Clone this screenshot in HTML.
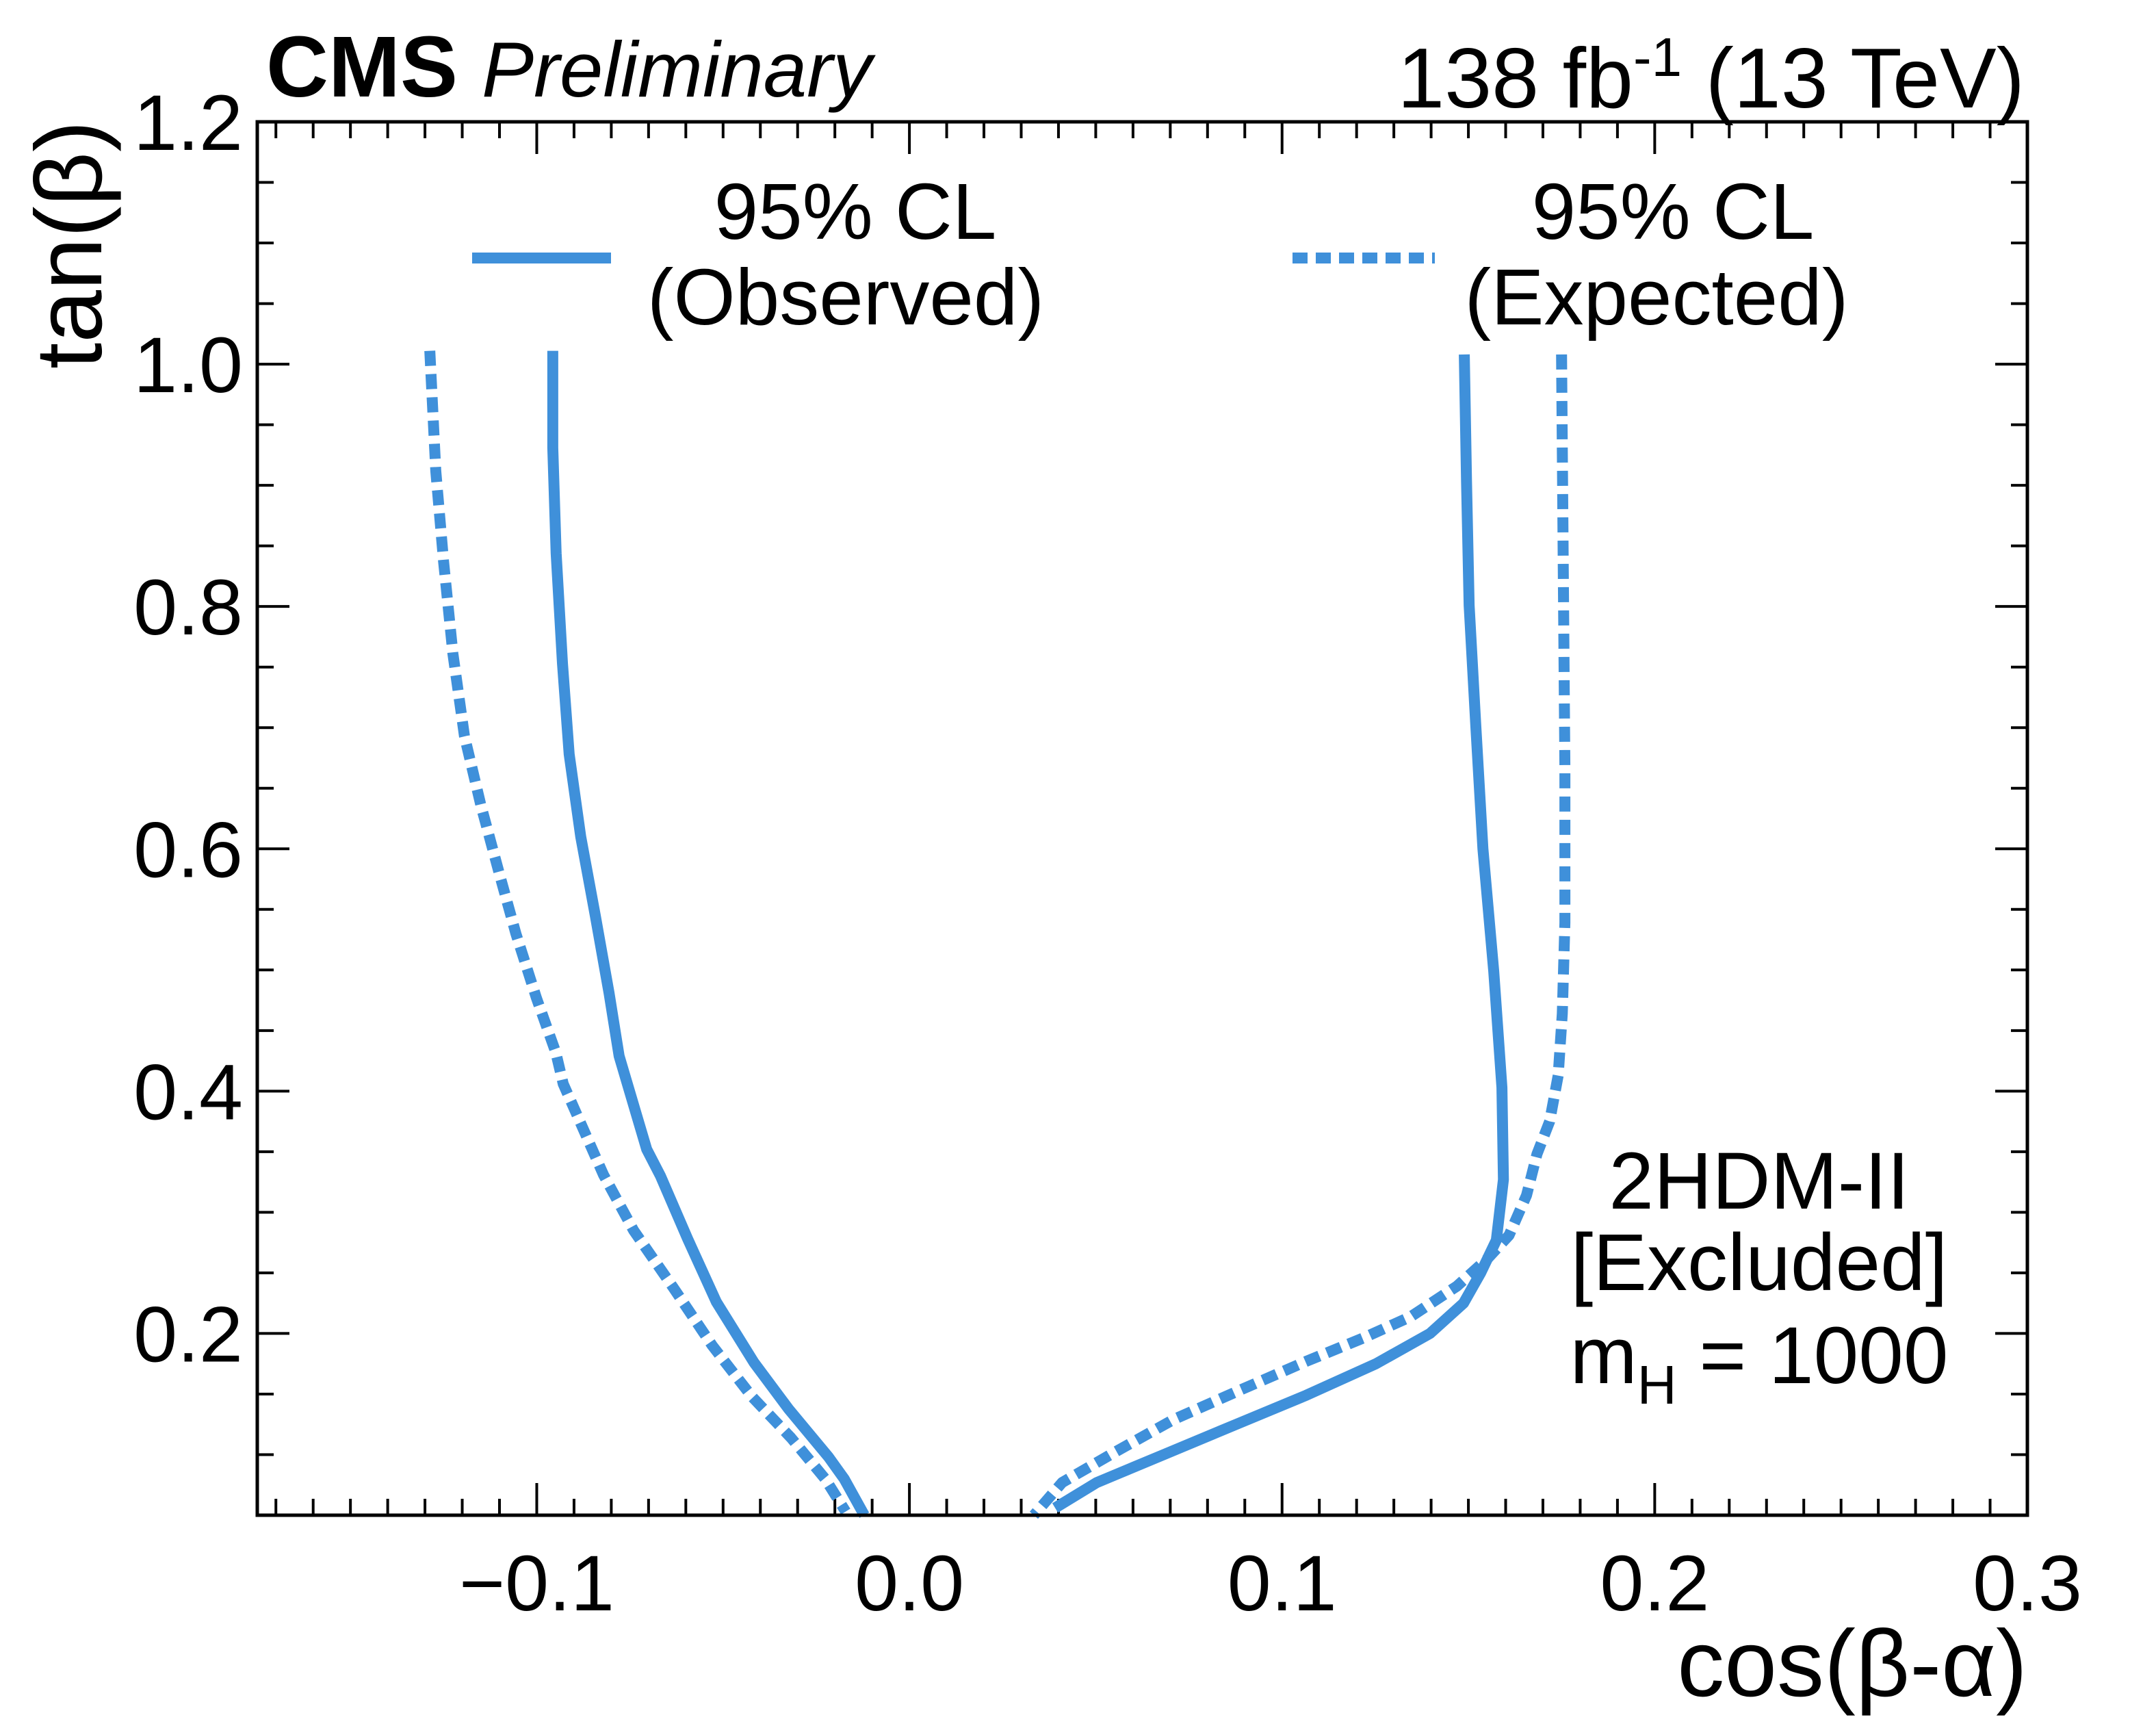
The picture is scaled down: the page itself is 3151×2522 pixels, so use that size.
<!DOCTYPE html>
<html><head><meta charset="utf-8"><style>
html,body{margin:0;padding:0;background:#fff;}
svg{display:block;font-family:"Liberation Sans",sans-serif;}
</style></head><body>
<svg id="chart" width="3151" height="2522" viewBox="0 0 3151 2522" xmlns="http://www.w3.org/2000/svg">
<g id="ticks"></g>
<g id="series"></g>
<rect x="376" y="178" width="2587" height="2036" fill="none" stroke="#000" stroke-width="5"/>
<g id="labels" font-size="115"></g>
<text x="389" y="141" font-size="126" font-weight="bold">CMS <tspan font-weight="normal" font-style="italic" font-size="114">Preliminary</tspan></text>
<text x="2959" y="157" font-size="124" text-anchor="end">138 fb<tspan dy="-46" font-size="80">-1</tspan><tspan dy="46"> (13 TeV)</tspan></text>
<text x="2963" y="2478" font-size="138" text-anchor="end">cos(β-α)</text>
<text transform="translate(148,176) rotate(-90)" font-size="138" text-anchor="end">tan(β)</text>
<g font-size="116" text-anchor="middle">
<line x1="690" y1="377" x2="893" y2="377" stroke="#3f90da" stroke-width="16"/>
<text x="1250" y="349">95% CL</text>
<text x="1236" y="474">(Observed)</text>
<line x1="1889" y1="377" x2="2097" y2="377" stroke="#3f90da" stroke-width="16" stroke-dasharray="22,12"/>
<text x="2445" y="349">95% CL</text>
<text x="2421" y="474">(Expected)</text>
</g>
<g font-size="118" text-anchor="middle">
<text x="2571" y="1766">2HDM-II</text>
<text x="2571" y="1885">[Excluded]</text>
<text x="2571" y="2021">m<tspan dy="30" font-size="80">H</tspan><tspan dy="-30"> = 1000</tspan></text>
</g>
</svg>
<script>
const xTickLabels = ["\u22120.1","0.0","0.1","0.2","0.3"];
const xTickValues = [-0.1,0,0.1,0.2,0.3];
const yTickLabels = ["0.2","0.4","0.6","0.8","1.0","1.2"];
const yTickValues = [0.2,0.4,0.6,0.8,1.0,1.2];
const obsLeftX = [-0.0957,-0.0957,-0.0948,-0.0931,-0.0913,-0.0882,-0.0843,-0.0806,-0.0779,-0.0705,-0.0668,-0.0595,-0.0518,-0.0417,-0.0325,-0.0217,-0.0175,-0.0121];
const obsLeftY = [1.011,0.931,0.844,0.753,0.678,0.610,0.545,0.481,0.429,0.352,0.330,0.278,0.226,0.176,0.138,0.098,0.080,0.050];
const obsRightX = [0.1489,0.1495,0.1502,0.1520,0.1539,0.1568,0.1590,0.1594,0.1575,0.1533,0.1487,0.1397,0.1252,0.1065,0.0877,0.0690,0.0503,0.0391];
const obsRightY = [1.008,0.903,0.801,0.701,0.600,0.499,0.403,0.327,0.277,0.250,0.225,0.200,0.175,0.149,0.125,0.101,0.077,0.056];
const expLeftX = [-0.1287,-0.1271,-0.1250,-0.1225,-0.1194,-0.1150,-0.1100,-0.1056,-0.1001,-0.0949,-0.0929,-0.0880,-0.0821,-0.0740,-0.0634,-0.0529,-0.0423,-0.0318,-0.0226,-0.0171];
const expLeftY = [1.011,0.912,0.837,0.761,0.693,0.636,0.579,0.530,0.477,0.432,0.406,0.372,0.331,0.285,0.238,0.190,0.148,0.114,0.080,0.053];
const expRightX = [0.1750,0.1755,0.1759,0.1759,0.1752,0.1741,0.1718,0.1684,0.1656,0.1609,0.1552,0.1469,0.1346,0.1216,0.1065,0.0878,0.0709,0.0551,0.0410,0.0334];
const expRightY = [1.008,0.817,0.666,0.539,0.464,0.413,0.375,0.348,0.314,0.281,0.262,0.239,0.214,0.196,0.177,0.152,0.129,0.102,0.077,0.050];

const X0=376,X1=2963,Y0=178,Y1=2214,XMIN=-0.175,XMAX=0.3,YMIN=0.05,YMAX=1.2;
const sx=v=>X0+(v-XMIN)/(XMAX-XMIN)*(X1-X0);
const sy=v=>Y1-(v-YMIN)/(YMAX-YMIN)*(Y1-Y0);
const NS="http://www.w3.org/2000/svg";
const tg=document.getElementById('ticks'), lg=document.getElementById('labels'), sg=document.getElementById('series');
function ln(x1,y1,x2,y2){const l=document.createElementNS(NS,'line');l.setAttribute('x1',x1);l.setAttribute('y1',y1);l.setAttribute('x2',x2);l.setAttribute('y2',y2);l.setAttribute('stroke','#000');l.setAttribute('stroke-width','4');


tg.appendChild(l);}
for(let i=-17;i<=30;i++){const v=i/100,x=sx(v);const major=i%10===0;const L=major?47:24;ln(x,Y1,x,Y1-L);ln(x,Y0,x,Y0+L);}
for(let i=1;i<=24;i++){const v=i*0.05;if(v<YMIN-1e-9)continue;const y=sy(v);const major=i%4===0;const L=major?47:24;ln(X0,y,X0+L,y);ln(X1,y,X1-L,y);}
xTickValues.forEach((v,i)=>{const t=document.createElementNS(NS,'text');t.setAttribute('x',sx(v));t.setAttribute('y',2353);t.setAttribute('text-anchor','middle');t.textContent=xTickLabels[i];


lg.appendChild(t);});
yTickValues.forEach((v,i)=>{const t=document.createElementNS(NS,'text');t.setAttribute('x',355);t.setAttribute('y',sy(v)+41);t.setAttribute('text-anchor','end');t.textContent=yTickLabels[i];


lg.appendChild(t);});
function curve(xs,ys,dashed,name){const p=document.createElementNS(NS,'polyline');p.setAttribute('points',xs.map((x,i)=>sx(x)+','+sy(ys[i])).join(' '));p.setAttribute('fill','none');p.setAttribute('stroke','#3f90da');p.setAttribute('stroke-width','16');p.setAttribute('stroke-linejoin','round');if(dashed)p.setAttribute('stroke-dasharray','22,12');


sg.appendChild(p);}
curve(obsLeftX,obsLeftY,false,'observed-left-contour');
curve(obsRightX,obsRightY,false,'observed-right-contour');
curve(expLeftX,expLeftY,true,'expected-left-contour');
curve(expRightX,expRightY,true,'expected-right-contour');
</script>
</body></html>
